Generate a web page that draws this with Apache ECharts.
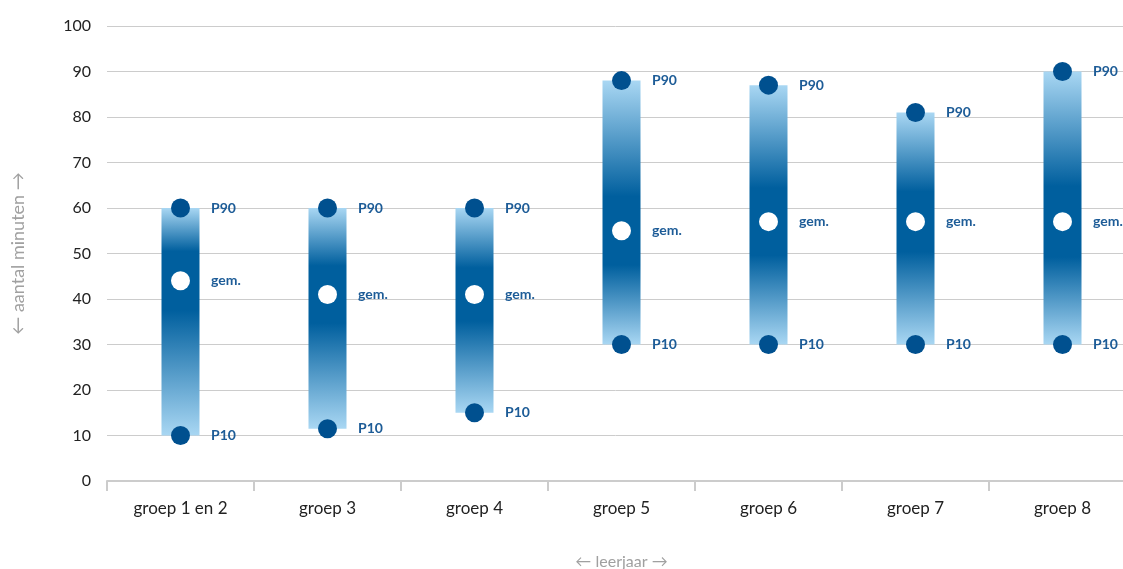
<!DOCTYPE html>
<html>
<head>
<meta charset="utf-8">
<script src="https://cdn.jsdelivr.net/npm/echarts@6/dist/echarts.min.js"></script>
<style>
  html, body { margin: 0; padding: 0; background: #ffffff; }
  #chart { width: 1123px; height: 569px; }
</style>
</head>
<body>
<div id="chart"></div>
<script>
// Leerjaren en spreiding van het aantal minuten (P10, gemiddelde, P90)
const categories = ['groep 1 en 2', 'groep 3', 'groep 4', 'groep 5', 'groep 6', 'groep 7', 'groep 8'];
const p10 = [10, 11.5, 15, 30, 30, 30, 30];
const gem = [44, 41, 41, 55, 57, 57, 57];
const p90 = [60, 60, 60, 88, 87, 81, 90];
const yTicks = [0, 10, 20, 30, 40, 50, 60, 70, 80, 90, 100];

const FONT = 'Lato, "Open Sans", sans-serif';
const LIGHT = '#a9d7f3';
const DARK = '#005f9e';
const DOT = '#00508f';
const LABEL = '#1d5c97';

const rangeData = categories.map((c, i) => [i, p10[i], p90[i], gem[i]]);

// Verticale balk van P10 tot P90, donkerst rond het gemiddelde
function renderRange(params, api) {
  const i = api.value(0);
  const lo = api.coord([i, api.value(1)]);
  const hi = api.coord([i, api.value(2)]);
  const w = 38;
  const f = (api.value(2) - api.value(3)) / (api.value(2) - api.value(1));
  const a = Math.max(0.01, f - 0.13);
  const b = Math.min(0.99, f + 0.13);
  return {
    type: 'rect',
    shape: { x: hi[0] - w / 2, y: hi[1], width: w, height: lo[1] - hi[1] },
    style: {
      fill: new echarts.graphic.LinearGradient(0, 0, 0, 1, [
        { offset: 0, color: LIGHT },
        { offset: a, color: DARK },
        { offset: b, color: DARK },
        { offset: 1, color: LIGHT }
      ])
    }
  };
}

function pointSeries(values, name, color) {
  return {
    type: 'scatter',
    name: name,
    data: values.map((v, i) => [i, v]),
    symbol: 'circle',
    symbolSize: 19,
    itemStyle: { color: color, opacity: 1 },
    label: {
      show: true,
      position: 'right',
      distance: 21,
      formatter: name,
      color: LABEL,
      fontFamily: FONT,
      fontWeight: 'bold',
      fontSize: 14
    },
    emphasis: { disabled: true },
    z: 3
  };
}

const chart = echarts.init(document.getElementById('chart'), null, { renderer: 'canvas' });
chart.setOption({
  animation: false,
  backgroundColor: '#ffffff',
  grid: {
    left: 107, right: -13, top: 26, bottom: 88,
    containLabel: false,
    outerBoundsMode: 'none'
  },
  xAxis: {
    type: 'category',
    data: categories,
    boundaryGap: true,
    name: '← leerjaar →',
    nameLocation: 'middle',
    nameGap: 73,
    nameTextStyle: { color: '#a0a0a0', fontSize: 16, fontFamily: FONT },
    axisLine: { lineStyle: { color: '#cccccc', width: 2 } },
    axisTick: { show: true, length: 10, lineStyle: { color: '#cccccc', width: 2 } },
    axisLabel: { color: '#222222', fontSize: 17, fontFamily: FONT, margin: 19 },
    splitLine: { show: false }
  },
  yAxis: {
    type: 'value',
    min: yTicks[0],
    max: yTicks[yTicks.length - 1],
    interval: 10,
    name: '← aantal minuten →',
    nameLocation: 'middle',
    nameRotate: 90,
    nameGap: 80,
    nameTextStyle: { color: '#a0a0a0', fontSize: 18, fontFamily: FONT },
    axisLine: { show: false },
    axisTick: { show: false },
    axisLabel: {
      color: '#222222', fontSize: 16, fontFamily: FONT, margin: 16,
      padding: [0, 0, 10, 0]
    },
    splitLine: { lineStyle: { color: '#cccccc', width: 1 } }
  },
  series: [
    {
      type: 'custom',
      name: 'bereik',
      data: rangeData,
      renderItem: renderRange,
      encode: { x: 0, y: [1, 2] },
      z: 2
    },
    pointSeries(p90, 'P90', DOT),
    pointSeries(p10, 'P10', DOT),
    pointSeries(gem, 'gem.', '#ffffff')
  ]
});
</script>
</body>
</html>
